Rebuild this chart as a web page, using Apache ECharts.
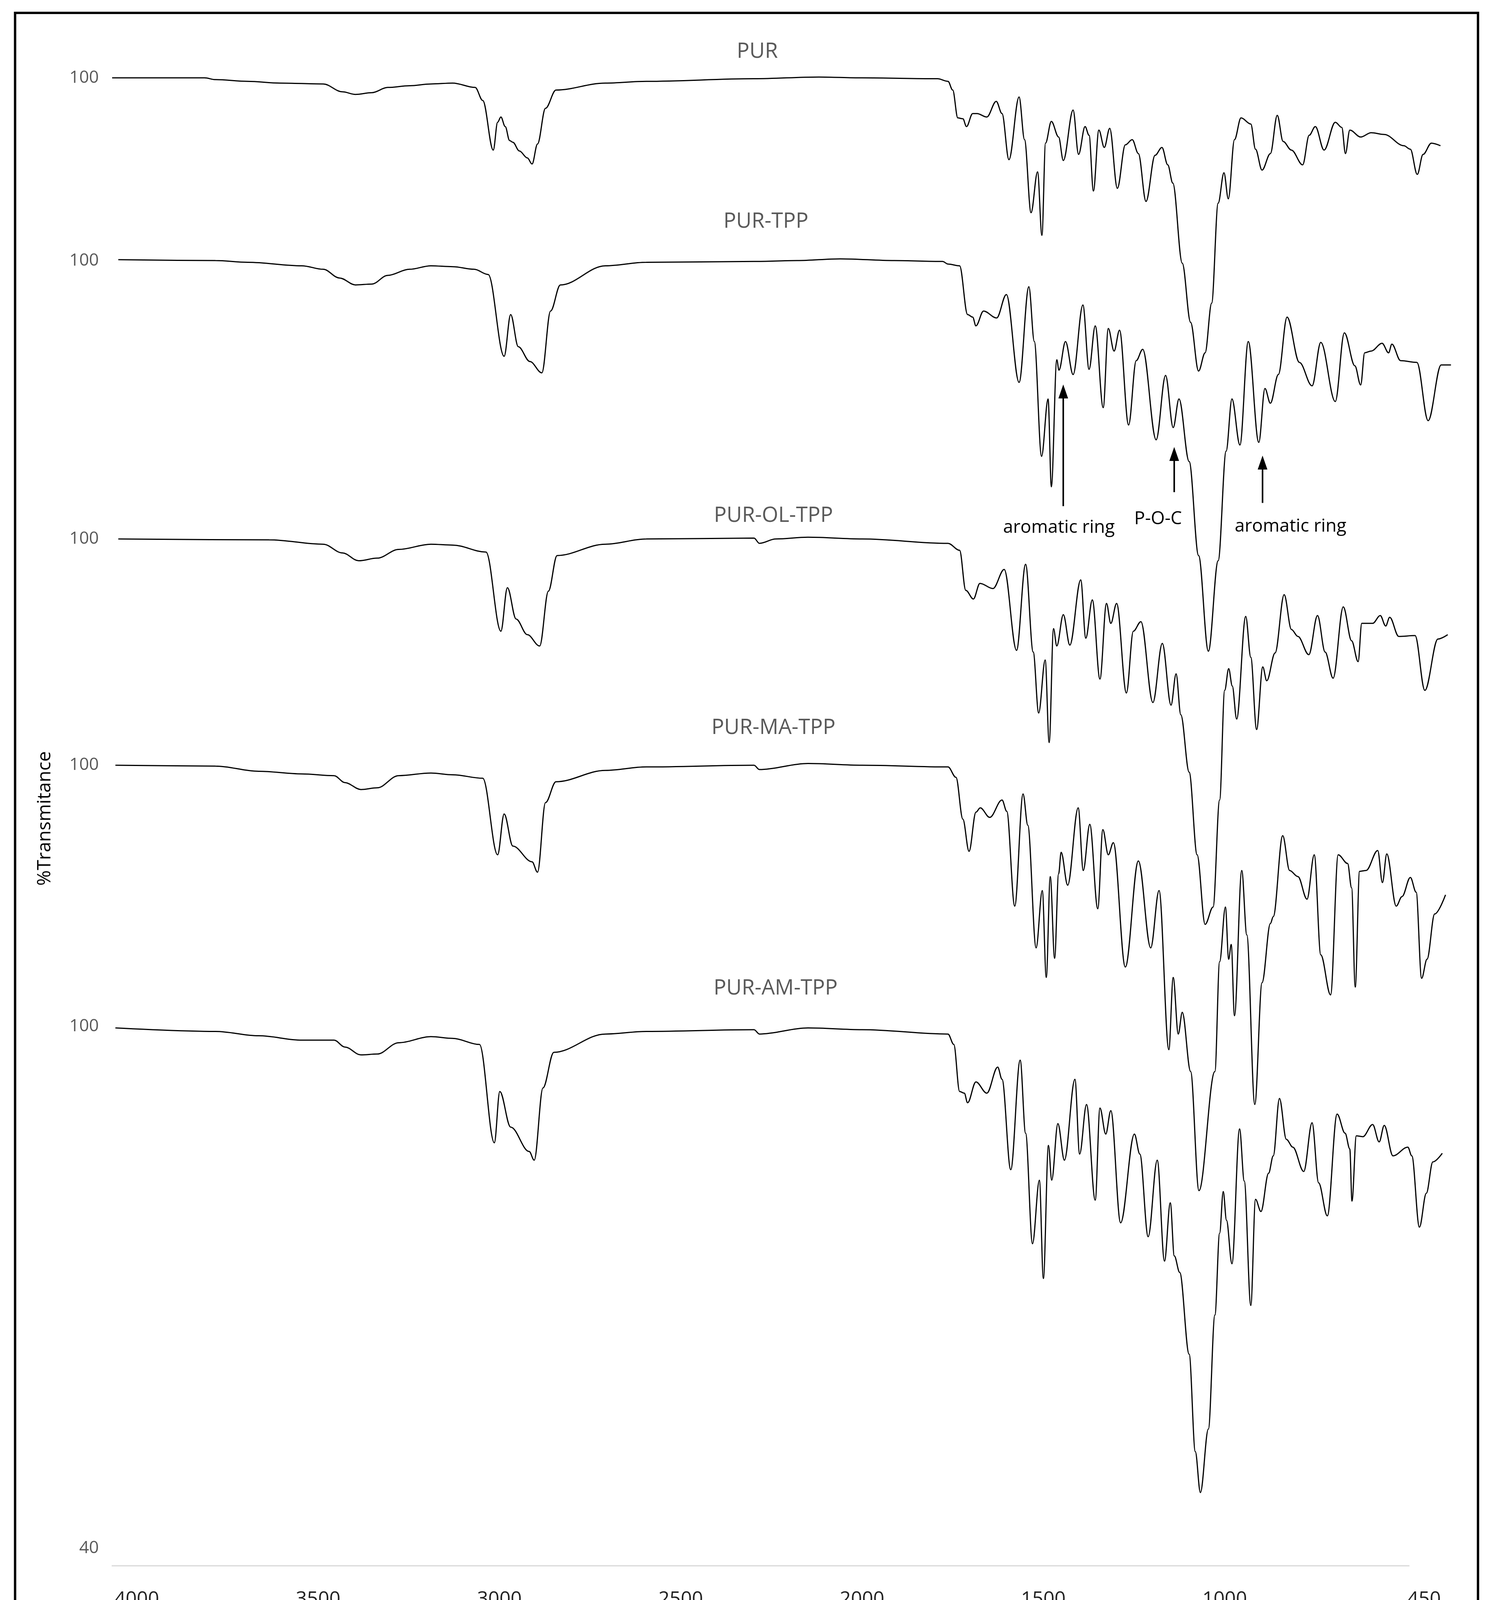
<!DOCTYPE html>
<html><head><meta charset="utf-8">
<script src="https://cdn.jsdelivr.net/npm/echarts@6/dist/echarts.min.js"></script>
<style>html,body{margin:0;padding:0;background:#fff}#c{width:3821px;height:4317px}</style>
</head><body><div id="c"></div>
<script>
const seriesNames = ['PUR','PUR-TPP','PUR-OL-TPP','PUR-MA-TPP','PUR-AM-TPP'];
const offsets = [109, 88, 56, 30, 0];
const xTickLabels = [4000,3500,3000,2500,2000,1500,1000,450];
const yTickLabels = ['100','40'];

const PUR = [[4068,100],[3813,100],[3783,99.8],[3694,99.6],[3605,99.4],[3486,99.3],[3433,98.4],[3397,98.1],[3352,98.3],[3308,98.9],[3248,99.1],[3189,99.3],[3129,99.4],[3067,98.9],[3046,97.4],[3017,91.7],[3005,94.9],[2996,95.5],[2984,94.4],[2972,92.8],[2963,92.6],[2945,91.6],[2923,90.8],[2910,90.1],[2895,92.4],[2873,96.5],[2844,98.6],[2708,99.4],[2595,99.6],[2298,99.9],[2119,100.1],[2000,100],[1792,99.9],[1763,99.6],[1750,98.6],[1736,95.4],[1722,95.3],[1712,94.4],[1695,95.9],[1683,95.9],[1656,95.5],[1630,97.3],[1614,95.9],[1595,90.6],[1567,97.8],[1552,92.9],[1534,84.5],[1516,89.2],[1504,81.9],[1494,92.5],[1478,95.0],[1458,93.2],[1445,90.5],[1418,96.3],[1403,91.2],[1385,94.4],[1374,93.4],[1362,87.0],[1347,94.0],[1332,92.0],[1317,94.2],[1296,87.3],[1274,92.3],[1255,92.9],[1238,91.3],[1217,85.8],[1192,91.1],[1173,92.0],[1157,90.0],[1143,87.9],[1117,78.7],[1094,71.9],[1072,66.3],[1054,68.4],[1036,74.1],[1018,85.6],[1002,89.1],[990,86.1],[973,92.9],[955,95.4],[928,94.7],[915,91.8],[897,89.4],[874,91.3],[855,95.7],[839,92.7],[816,91.7],[785,90.0],[767,93.4],[750,94.4],[726,91.7],[695,94.9],[677,94.3],[667,91.3],[655,94.0],[625,93.2],[596,93.7],[560,93.5],[506,92.2],[488,91.8],[469,88.9],[453,91.2],[430,92.5],[405,92.2]];

const TPP = [[4051,100.1],[3783,100],[3694,99.8],[3545,99.4],[3486,99.0],[3441,98.0],[3397,97.2],[3352,97.3],[3308,98.3],[3248,99.0],[3189,99.4],[3129,99.3],[3070,99.0],[3031,98.4],[2987,89.0],[2969,93.8],[2948,90.1],[2916,88.4],[2883,87.1],[2859,94.2],[2832,97.2],[2708,99.4],[2595,99.8],[2298,99.9],[2179,100],[2060,100.2],[1911,100],[1778,99.9],[1763,99.6],[1731,99.4],[1709,93.8],[1695,93.5],[1686,92.5],[1665,94.2],[1629,93.4],[1602,96.1],[1567,86.0],[1540,97.0],[1525,90.7],[1505,77.5],[1487,84.1],[1478,74.0],[1463,88.6],[1457,87.4],[1439,90.7],[1418,86.9],[1391,94.9],[1374,87.5],[1357,92.5],[1335,83.1],[1321,92.2],[1305,89.6],[1290,92.0],[1265,81.1],[1244,88.5],[1226,89.8],[1189,79.4],[1163,86.8],[1142,80.8],[1126,84.1],[1098,76.9],[1072,66.1],[1045,55.1],[1018,65.5],[996,78.1],[980,84.1],[958,78.8],[935,90.7],[906,79.1],[889,85.3],[874,83.6],[852,86.9],[828,93.5],[794,88.3],[759,85.6],[735,90.6],[695,83.8],[670,91.7],[641,87.9],[625,85.7],[614,89.4],[596,89.6],[566,90.5],[548,89.4],[539,90.4],[515,88.5],[470,88.3],[439,81.6],[403,88.0],[376,88.0]];

const OL = [[4051,100],[3635,99.9],[3486,99.4],[3433,98.4],[3388,97.5],[3337,97.8],[3278,98.8],[3189,99.4],[3129,99.3],[3037,98.5],[2996,89.4],[2978,94.4],[2954,90.8],[2923,89.0],[2889,87.7],[2865,94.0],[2841,98.1],[2708,99.4],[2595,100],[2298,100.1],[2283,99.5],[2238,100],[2149,100.2],[2000,100],[1763,99.5],[1731,98.7],[1714,94.1],[1693,93.1],[1675,94.9],[1639,94.3],[1608,96.5],[1574,87.2],[1549,97.1],[1528,87.0],[1513,80.0],[1495,86.1],[1484,76.6],[1472,89.7],[1463,87.7],[1445,91.3],[1427,87.8],[1397,95.3],[1383,88.6],[1365,93.0],[1344,83.9],[1326,92.6],[1314,90.3],[1298,92.6],[1271,82.3],[1252,89.4],[1231,90.5],[1198,81.2],[1172,88.0],[1148,80.9],[1134,84.5],[1121,79.8],[1098,73.2],[1076,63.7],[1054,55.7],[1032,57.7],[1014,70.0],[1000,82.6],[989,85.1],[979,83.1],[967,79.3],[942,91.1],[928,86.4],[912,78.1],[895,85.3],[884,83.7],[861,86.9],[836,93.6],[816,89.6],[798,88.8],[768,86.7],[744,91.2],[723,87.0],[701,84.0],[673,92.2],[650,88.3],[632,85.9],[622,90.3],[592,90.3],[571,91.2],[556,90.0],[545,91.0],[520,88.8],[475,88.9],[448,82.6],[412,88.5],[385,89.0]];

const MA = [[4059,100],[3783,99.9],[3664,99.3],[3545,99.0],[3456,98.8],[3426,98.0],[3382,97.2],[3337,97.4],[3278,98.8],[3189,99.1],[3129,98.9],[3046,98.5],[3005,89.7],[2987,94.4],[2963,90.7],[2910,88.9],[2895,87.7],[2873,95.7],[2844,98.1],[2708,99.4],[2595,99.8],[2298,100],[2283,99.5],[2149,100.2],[2000,100],[1763,99.8],[1741,98.6],[1722,93.8],[1705,90.1],[1686,94.6],[1674,95.1],[1648,94.0],[1614,96.0],[1601,94.7],[1579,83.8],[1556,96.7],[1543,93.1],[1520,79.0],[1503,85.6],[1492,75.6],[1481,87.2],[1469,77.8],[1458,87.5],[1451,90.0],[1433,86.2],[1404,95.1],[1390,87.9],[1372,93.2],[1350,83.5],[1336,92.6],[1321,89.7],[1307,91.1],[1274,76.8],[1238,89.0],[1204,79.0],[1181,85.6],[1154,67.3],[1142,75.6],[1128,69.1],[1117,71.6],[1094,64.8],[1071,51.1],[1027,64.8],[1014,77.4],[998,83.7],[989,77.7],[982,79.4],[973,71.2],[953,87.9],[939,80.5],[917,61.0],[897,75.0],[874,81.8],[866,82.6],[840,91.9],[821,87.9],[798,87.2],[773,84.6],[753,89.7],[735,78.2],[708,73.6],[687,89.7],[661,88.7],[650,85.9],[640,74.5],[628,87.8],[610,87.9],[578,90.2],[565,86.5],[553,89.8],[527,83.8],[511,84.9],[488,87.1],[472,85.4],[457,75.5],[442,77.7],[421,82.9],[391,85.1]];

const AM = [[4059,99.8],[3783,99.4],[3664,98.9],[3545,98.4],[3456,98.4],[3426,97.6],[3382,96.7],[3337,96.8],[3278,98.1],[3189,98.8],[3129,98.6],[3055,97.9],[3014,86.6],[2999,92.5],[2969,88.4],[2918,85.6],[2904,84.6],[2880,92.9],[2850,97.0],[2708,99.1],[2595,99.4],[2298,99.6],[2283,99.1],[2149,99.8],[2000,99.6],[1763,99.1],[1747,97.9],[1731,92.5],[1718,92.3],[1709,91.2],[1686,93.6],[1656,92.3],[1626,95.3],[1614,93.9],[1590,83.5],[1564,96.1],[1549,87.7],[1530,75.0],[1511,82.3],[1500,71.0],[1486,86.3],[1477,82.3],[1460,88.8],[1442,84.6],[1413,93.9],[1400,85.3],[1381,91.0],[1357,80.0],[1344,90.6],[1328,87.6],[1314,90.3],[1287,77.4],[1249,87.6],[1234,85.3],[1211,75.8],[1186,84.6],[1166,73.0],[1150,79.7],[1139,73.6],[1124,71.7],[1098,62.3],[1081,51.1],[1067,46.4],[1045,53.7],[1027,66.8],[1014,76.2],[1004,81.0],[995,77.7],[980,72.7],[959,88.2],[946,82.2],[928,67.9],[915,80.1],[900,78.7],[879,83.1],[866,85.1],[849,91.7],[830,87.0],[812,86.1],[782,83.3],[759,88.9],[741,82.0],[717,78.2],[690,89.9],[668,87.7],[655,85.9],[649,79.9],[637,87.4],[619,87.3],[592,88.7],[574,86.7],[560,88.6],[536,85.1],[495,86.1],[484,85.1],[463,76.9],[444,80.8],[426,84.4],[400,85.4]];

const spectra = [PUR, TPP, OL, MA, AM];

const labelVals = {};
offsets.forEach(o => { labelVals[100 + o] = yTickLabels[0]; });
labelVals[40] = yTickLabels[1];

const chart = echarts.init(document.getElementById('c'), null, {renderer:'canvas'});
const S = 2.757;
function txt(x, y, s, size, color, extra) {
  return Object.assign({type:'text', x:x*S, y:y*S, style:{text:s, fontSize:size, fill:color, fontFamily:'Open Sans', textAlign:'center', textVerticalAlign:'middle'}}, extra||{});
}
function arrow(x, y1, y2) {
  return [
    {type:'line', shape:{x1:x*S, y1:y1*S, x2:x*S, y2:(y2+10)*S}, style:{stroke:'#000', lineWidth:4}},
    {type:'polygon', shape:{points:[[x*S,y2*S],[(x-4.5)*S,(y2+13)*S],[(x+4.5)*S,(y2+13)*S]]}, style:{fill:'#000'}}
  ];
}
const labelPos = [[703,48],[711,206],[718,479],[718,676],[720,918]];
const graphics = [
  {type:'rect', shape:{x:14*S, y:12*S, width:1358*S, height:1544*S}, style:{fill:null, stroke:'#000', lineWidth:6}},
  txt(714, 1518, 'Wavenumber (cm\u207B\u00B9)', 52, '#000'),
  txt(42, 760, '%Transmitance', 48, '#000', {rotation:Math.PI/2}),
  txt(983, 490, 'aromatic ring', 46, '#000'),
  txt(1075, 482, 'P-O-C', 46, '#000'),
  txt(1198, 489, 'aromatic ring', 46, '#000'),
  ...arrow(987, 470, 357),
  ...arrow(1090, 457, 415),
  ...arrow(1172, 467, 423)
];
seriesNames.forEach((n,i) => graphics.push(txt(labelPos[i][0], labelPos[i][1], n, 54, '#595959')));

chart.setOption({
  animation:false,
  backgroundColor:'#fff',
  grid:[
    {left:287, right:102, top:88, bottom:309},
    {left:287, right:215, top:88, bottom:309}
  ],
  xAxis:[
    {type:'value', gridIndex:0, min:370, max:4068, inverse:true,
     axisLine:{show:false}, axisTick:{show:false}, splitLine:{show:false},
     axisLabel:{customValues:xTickLabels, fontSize:50, color:'#222', margin:62, fontFamily:'Open Sans', formatter:v => String(v)}},
    {type:'value', gridIndex:1, min:491, max:4068, inverse:true,
     axisLine:{show:true, lineStyle:{color:'#d9d9d9', width:3}}, axisTick:{show:false}, splitLine:{show:false}, axisLabel:{show:false}}
  ],
  yAxis:[
    {type:'value', gridIndex:0, min:38, max:214, interval:1,
     axisLine:{show:false}, axisTick:{show:false}, splitLine:{show:false},
     axisLabel:{fontSize:44, color:'#595959', margin:34, fontFamily:'Open Sans', formatter:v => labelVals[v] || ''}},
    {type:'value', gridIndex:1, min:38, max:214, show:false}
  ],
  graphic:graphics,
  series: spectra.map((d,i) => ({
    name:seriesNames[i], type:'line', xAxisIndex:0, yAxisIndex:0, showSymbol:false, clip:false,
    smooth:0.35, smoothMonotone:'x',
    lineStyle:{color:'#000', width:3}, data:d.map(p => [p[0], p[1] + offsets[i]])
  }))
});
</script></body></html>
